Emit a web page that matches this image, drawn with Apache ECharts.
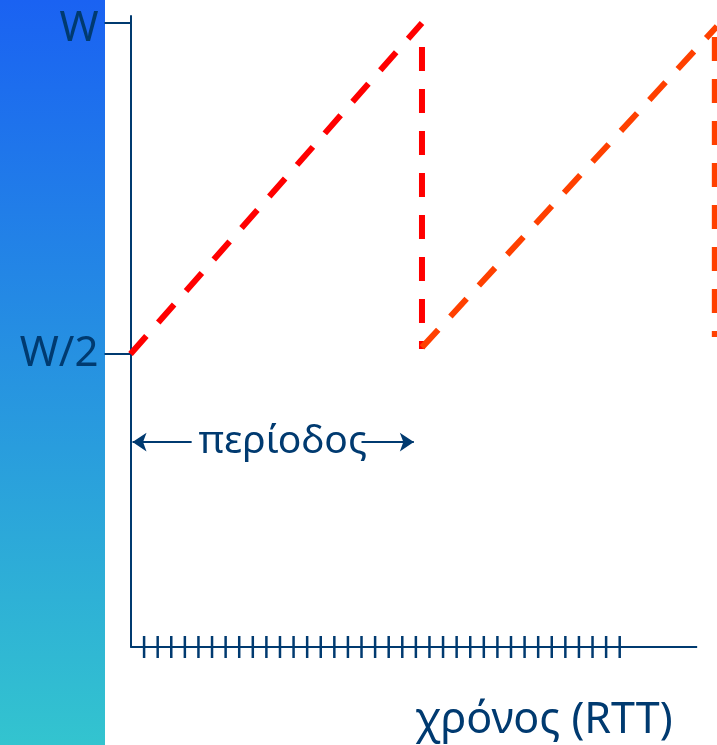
<!DOCTYPE html>
<html>
<head>
<meta charset="utf-8">
<script src="https://cdn.jsdelivr.net/npm/echarts@6/dist/echarts.min.js"></script>
<style>
  html, body { margin: 0; padding: 0; background: #fff; }
  #chart { width: 717px; height: 745px; }
</style>
</head>
<body>
<div id="chart"></div>
<script>
// x in RTT, y as a fraction of W
const rttTicks = Array.from({ length: 36 }, (_, i) => i + 1)
const yTickValues = [0.5, 1]
const yTickLabels = { 0.5: 'W/2', 1: '{w|W}' }

const rise1 = [[0, 0.5], [21.45, 1]]
const drop1 = [[21.45, 0.991], [21.45, 0.5076]]
const rise2 = [[21.45, 0.51], [43.16, 0.995]]
const drop2 = [[43.0, 0.979], [43.0, 0.5257]]

const timeAxis = [[0, 0.0574], [41.7, 0.0574]]
const periodArrows = [
  { coords: [[4.5, 0.367], [0.15, 0.367]] },
  { coords: [[17.0, 0.367], [20.85, 0.367]] }
]
const periodLabel = [[11.2, 0.367]]

const navy = '#003a70'
const font = "'Comic Sans MS', 'Noto Sans', sans-serif"

const chart = echarts.init(document.getElementById('chart'), null, { renderer: 'canvas' })

const dashed = (data, color, offset) => ({
  type: 'line',
  data,
  symbol: 'none',
  clip: false,
  silent: true,
  lineStyle: { color, width: 6, type: [24, 18], dashOffset: offset || 0, cap: 'butt' },
  z: 5
})

chart.setOption({
  animation: false,
  backgroundColor: '#fff',
  graphic: [{
    type: 'rect',
    left: 0, top: 0,
    shape: { width: 105, height: 745 },
    style: {
      fill: new echarts.graphic.LinearGradient(0, 0, 0, 1, [
        { offset: 0, color: '#1a62f2' },
        { offset: 1, color: '#33c4cf' }
      ])
    },
    z: -10
  }],
  title: {
    text: 'χρόνος (RTT)',
    left: 410,
    top: 694,
    textStyle: { color: navy, fontFamily: font, fontSize: 43, fontWeight: 'normal' }
  },
  grid: { left: 130.5, right: 0, top: 16, bottom: 98, containLabel: false, outerBoundsMode: 'none' },
  xAxis: {
    type: 'value',
    min: 0,
    max: 43.16,
    axisLine: { show: false },
    axisTick: { show: false },
    axisLabel: { show: false },
    splitLine: { show: false }
  },
  yAxis: {
    type: 'value',
    min: 0.0574,
    max: 1.0106,
    axisLine: { show: true, lineStyle: { color: navy, width: 2 } },
    axisTick: {
      show: true,
      customValues: yTickValues,
      length: 26,
      lineStyle: { color: navy, width: 2 }
    },
    axisLabel: {
      customValues: yTickValues,
      formatter: v => yTickLabels[v] || '',
      margin: 32,
      color: navy,
      fontFamily: font,
      fontSize: 42,
      rich: {
        w: { color: navy, fontFamily: font, fontSize: 42, padding: [12, 0, 0, 0] }
      }
    },
    splitLine: { show: false }
  },
  series: [
    {
      type: 'line',
      data: timeAxis,
      symbol: 'none',
      silent: true,
      lineStyle: { color: navy, width: 2 }
    },
    dashed(rise1, '#ff0000'),
    dashed(drop1, '#ff0000', 24),
    dashed(rise2, '#ff4000'),
    dashed(drop2, '#ff4000'),
    {
      // RTT ticks crossing the time axis
      type: 'scatter',
      data: rttTicks.map(t => [t, 0.0574]),
      symbol: 'rect',
      symbolSize: [2.5, 22],
      itemStyle: { color: navy, opacity: 1 },
      silent: true,
      clip: false
    },
    {
      type: 'lines',
      coordinateSystem: 'cartesian2d',
      data: periodArrows,
      symbol: ['none', 'arrow'],
      symbolSize: 14,
      lineStyle: { color: navy, width: 2, opacity: 1 },
      silent: true
    },
    {
      type: 'scatter',
      data: periodLabel,
      symbolSize: 0,
      silent: true,
      itemStyle: { opacity: 1 },
      label: {
        show: true,
        position: 'inside',
        formatter: 'περίοδος',
        color: navy,
        fontFamily: font,
        fontSize: 39
      }
    }
  ]
})
</script>
</body>
</html>
